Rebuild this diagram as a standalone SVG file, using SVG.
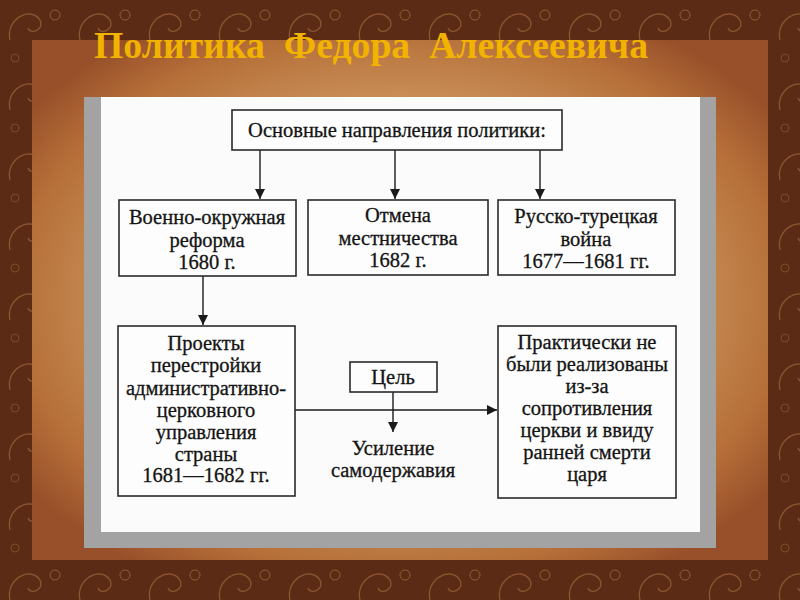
<svg xmlns="http://www.w3.org/2000/svg" width="800" height="600" viewBox="0 0 800 600">
<defs>
<radialGradient id="parch" cx="50%" cy="50%" r="62%">
<stop offset="0" stop-color="#dbae7a"/>
<stop offset="0.55" stop-color="#cf985f"/>
<stop offset="0.85" stop-color="#b56e38"/>
<stop offset="1" stop-color="#98502a"/>
</radialGradient>
<pattern id="paisley" width="70" height="70" patternUnits="userSpaceOnUse">
<rect width="70" height="70" fill="#5b2b15"/>
<path d="M10,40 C5,20 30,5 40,20 C45,30 30,35 28,28" fill="none" stroke="#8a5530" stroke-width="1.3"/>
<path d="M45,65 C40,50 60,40 66,52 C69,60 58,62 57,56" fill="none" stroke="#7a4726" stroke-width="1.2"/>
<circle cx="55" cy="15" r="5" fill="none" stroke="#8f5c33" stroke-width="1"/>
<circle cx="15" cy="58" r="4" fill="none" stroke="#7d4a28" stroke-width="1"/>
</pattern>
<marker id="arr" viewBox="0 0 10 10" refX="10" refY="5" markerWidth="10" markerHeight="10" markerUnits="userSpaceOnUse" orient="auto">
<path d="M0,0 L10,5 L0,10 Z" fill="#1a1a1a"/>
</marker>
<style>
.box{fill:#fdfdfd;stroke:#2a2a2a;stroke-width:1.6}
.t{font-family:"Liberation Serif","Times New Roman",serif;font-size:20.5px;fill:#141414;stroke:#141414;stroke-width:0.3;text-anchor:middle}
.c{stroke:#1a1a1a;stroke-width:1.4;fill:none;marker-end:url(#arr)}
</style>
</defs>
<rect width="800" height="600" fill="url(#paisley)"/>
<rect x="32" y="40" width="736" height="520" fill="url(#parch)"/>
<rect x="84" y="97" width="632" height="451" fill="#a3a3a3"/>
<rect x="101" y="97" width="599" height="435" fill="#fbfbfb"/>
<text x="94" y="58" font-family="Liberation Serif,serif" font-weight="bold" font-size="38" fill="#f2b300" textLength="554" lengthAdjust="spacingAndGlyphs" xml:space="preserve">Политика  Федора  Алексеевича</text>
<g id="connectors">
<line class="c" x1="260" y1="150" x2="260" y2="199"/>
<line class="c" x1="395" y1="150" x2="395" y2="199"/>
<line class="c" x1="540" y1="150" x2="540" y2="199"/>
<line class="c" x1="203" y1="276" x2="203" y2="325"/>
<line class="c" x1="295" y1="410" x2="497" y2="410"/>
<line class="c" x1="393" y1="392" x2="393" y2="432"/>
</g>
<g id="top">
<rect class="box" x="232" y="110" width="330" height="40" stroke-width="2"/>
<text class="t" x="397" y="137">Основные направления политики:</text>
</g>
<g id="n1">
<rect class="box" x="119" y="200" width="177" height="76"/>
<text class="t" x="207" y="224">Военно-окружная</text>
<text class="t" x="207" y="247">реформа</text>
<text class="t" x="207" y="269">1680 г.</text>
</g>
<g id="n2">
<rect class="box" x="308" y="200" width="180" height="75"/>
<text class="t" x="398" y="222">Отмена</text>
<text class="t" x="398" y="245">местничества</text>
<text class="t" x="398" y="267">1682 г.</text>
</g>
<g id="n3">
<rect class="box" x="498" y="200" width="177" height="75"/>
<text class="t" x="586" y="223">Русско-турецкая</text>
<text class="t" x="586" y="246">война</text>
<text class="t" x="586" y="268">1677—1681 гг.</text>
</g>
<g id="n4">
<rect class="box" x="118" y="326" width="177" height="170"/>
<text class="t" x="206" y="350">Проекты</text>
<text class="t" x="206" y="372">перестройки</text>
<text class="t" x="206" y="395">административно-</text>
<text class="t" x="206" y="417">церковного</text>
<text class="t" x="206" y="439">управления</text>
<text class="t" x="206" y="461">страны</text>
<text class="t" x="206" y="482">1681—1682 гг.</text>
</g>
<g id="goal">
<rect class="box" x="350" y="362" width="87" height="30"/>
<text class="t" x="393" y="384">Цель</text>
</g>
<g id="result">
<text class="t" x="393" y="455">Усиление</text>
<text class="t" x="393" y="477">самодержавия</text>
</g>
<g id="n5">
<rect class="box" x="498" y="326" width="178" height="172"/>
<text class="t" x="587" y="349">Практически не</text>
<text class="t" x="587" y="371">были реализованы</text>
<text class="t" x="587" y="393">из-за</text>
<text class="t" x="587" y="415">сопротивления</text>
<text class="t" x="587" y="437">церкви и ввиду</text>
<text class="t" x="587" y="459">ранней смерти</text>
<text class="t" x="587" y="481">царя</text>
</g>
</svg>
